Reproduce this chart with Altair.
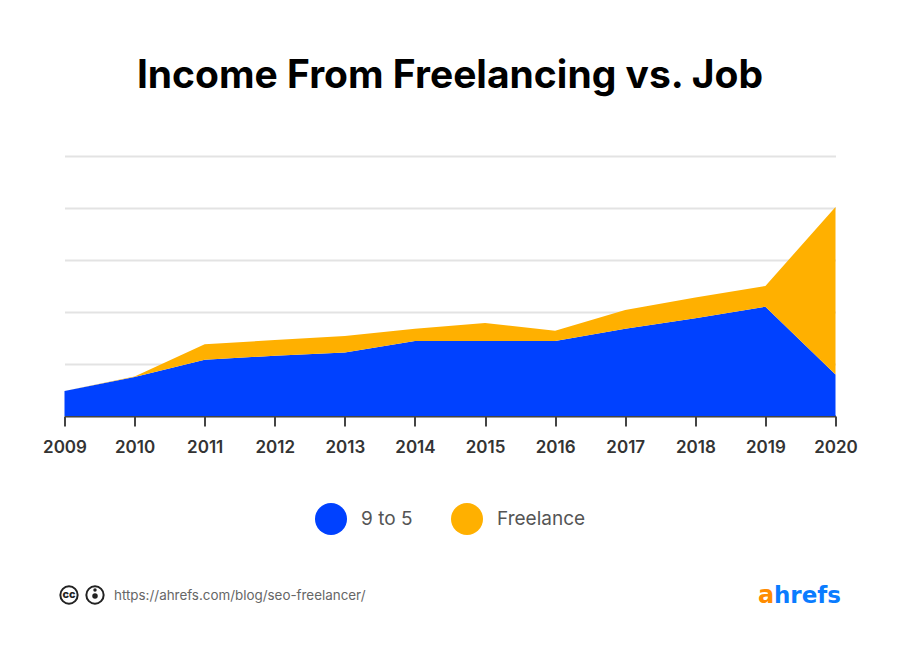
import altair as alt
import pandas as pd

years = [str(y) for y in range(2009, 2021)]
nine_to_five = [24, 37.5, 54, 58, 61, 72, 72, 72, 84, 94, 105, 40]
freelance = [0, 0.5, 15, 15, 16, 12, 17.5, 10, 18, 20, 20, 161]
series_names = ["9 to 5", "Freelance"]
series_colors = ["#0041ff", "#ffb000"]

df = pd.DataFrame({
    "year": years * 2,
    "value": nine_to_five + freelance,
    "series": [series_names[0]] * 12 + [series_names[1]] * 12,
    "rank": [0] * 12 + [1] * 12,
})

FONT = "Inter"
OX, OY = 64.5, 156


def label(text, x, y, size, color, weight="normal", font=FONT, align="left"):
    return alt.Chart(pd.DataFrame({"t": [text]})).mark_text(
        font=font, fontSize=size, color=color, fontWeight=weight, align=align, baseline="middle"
    ).encode(x=alt.value(x - OX), y=alt.value(y - OY), text="t:N")


def dot(x, y, size, **kw):
    return alt.Chart(pd.DataFrame({"t": [0]})).mark_point(shape="circle", size=size, opacity=1, **kw).encode(
        x=alt.value(x - OX), y=alt.value(y - OY)
    )


area = alt.Chart(df).mark_area(opacity=1).encode(
    x=alt.X(
        "year:O",
        scale=alt.Scale(type="point", padding=0),
        axis=alt.Axis(
            title=None, labelAngle=0, labelFont=FONT, labelFontSize=17, labelFontWeight=600,
            labelColor="#333333", labelPadding=13, tickSize=10, tickWidth=2, tickColor="#444444",
            domainColor="#444444", domainWidth=2, grid=False, labelOverlap=False,
        ),
    ),
    y=alt.Y(
        "value:Q",
        stack="zero",
        scale=alt.Scale(domain=[0, 250], nice=False),
        axis=alt.Axis(
            title=None, values=[0, 50, 100, 150, 200, 250], labels=False, ticks=False, domain=False,
            grid=True, gridColor="#e3e3e3", gridWidth=2,
        ),
    ),
    color=alt.Color(
        "series:N",
        scale=alt.Scale(domain=series_names, range=series_colors),
        legend=alt.Legend(
            title=None, orient="none", legendX=250.5, legendY=347, direction="horizontal", columns=2,
            symbolType="circle", symbolSize=1024, symbolStrokeWidth=0, symbolOpacity=1,
            labelFont=FONT, labelFontSize=19, labelColor="#555555", labelOffset=14, columnPadding=38,
        ),
    ),
    order=alt.Order("rank:Q", sort="ascending"),
)

layers = [
    area,
    label("Income From Freelancing vs. Job", 450, 76, 39, "#000000", weight=700, align="center"),
    label("https://ahrefs.com/blog/seo-freelancer/", 114, 596, 13.4, "#666666"),
    dot(69, 595, 300, filled=False, color="#222222", strokeWidth=2),
    label("cc", 69, 595, 11, "#222222", weight=800, align="center"),
    dot(95, 595, 300, filled=False, color="#222222", strokeWidth=2),
    dot(95, 590, 12, filled=True, color="#222222"),
    dot(95, 596, 30, filled=True, color="#222222"),
    label("a", 758, 596, 24, "#ff8c00", weight=700, font="DejaVu Sans"),
    label("hrefs", 774, 596, 23, "#0a7cff", weight=700, font="DejaVu Sans"),
]

chart = alt.layer(*layers).properties(
    width=771,
    height=260,
    background="#ffffff",
    autosize=alt.AutoSizeParams(type="none"),
    padding={"left": 56.5, "top": 148, "right": 48.5, "bottom": 242},
).configure_view(stroke=None)

chart.save("out.html", embed_options={"renderer": "svg", "actions": False})
